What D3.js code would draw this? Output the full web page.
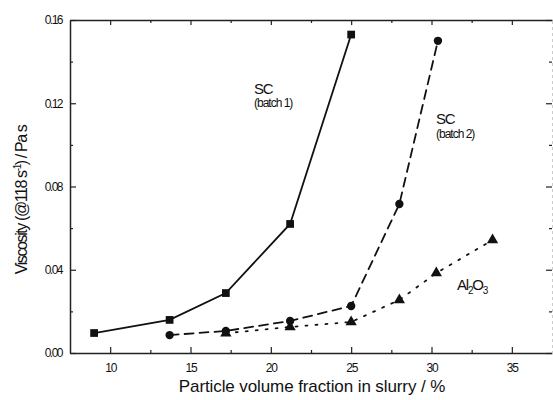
<!DOCTYPE html>
<html>
<head>
<meta charset="utf-8">
<script src="https://cdn.jsdelivr.net/npm/d3@7"></script>
<style>
  body { margin: 0; background: #fff; }
  text { font-family: "Liberation Sans", Arial, sans-serif; fill: #111; }
</style>
</head>
<body>
<div id="chart"></div>
<script>
// Données
const batch1X = [9.0, 13.7, 17.2, 21.2, 25.0];
const batch1Y = [0.0096, 0.0159, 0.0288, 0.062, 0.153];

const batch2X = [13.7, 17.2, 21.2, 25.0, 28.0, 30.4];
const batch2Y = [0.0086, 0.0106, 0.0154, 0.0226, 0.0716, 0.150];

const aluminaX = [17.2, 21.2, 25.0, 28.0, 30.3, 33.8];
const aluminaY = [0.0095, 0.0125, 0.0149, 0.0255, 0.0384, 0.0543];

const xTicks = [10, 15, 20, 25, 30, 35];
const xMinor = [12.5, 17.5, 22.5, 27.5, 32.5];
const yTicks = [0, 0.04, 0.08, 0.12, 0.16];
const yMinor = [0.02, 0.06, 0.10, 0.14];
const yTickLabels = ["0.00", "0.04", "0.08", "0.12", "0.16"];

//---------------------------------------------------------------------------------------

const W = 553, H = 400;
const margin = { left: 70, right: 1, top: 20, bottom: 47 };
const width = W - margin.left - margin.right;
const height = H - margin.top - margin.bottom;

const svg = d3.select("#chart")
  .append("svg")
  .attr("width", W)
  .attr("height", H);

const g = svg.append("g")
  .attr("transform", `translate(${margin.left}, ${margin.top})`);

// échelles
const scaleX = d3.scaleLinear().domain([7.5, 37.5]).range([0, width]);
const scaleY = d3.scaleLinear().domain([0, 0.16]).range([height, 0]);

//---------------------------------------------------------------------------------------

// axes (ticks vers l'intérieur)
const axisStyle = sel => {
  sel.select(".domain").attr("stroke", "#222").attr("stroke-width", 1.5);
  sel.selectAll(".tick line").attr("stroke", "#222").attr("stroke-width", 1.2);
};

// axe du bas
g.append("g")
  .attr("transform", `translate(0, ${height})`)
  .call(d3.axisBottom(scaleX).tickValues(xTicks).tickSizeInner(-6).tickSizeOuter(0).tickPadding(10))
  .call(axisStyle)
  .call(a => a.selectAll("text").attr("font-size", 12).attr("letter-spacing", -1.2).attr("fill", "#111"));

g.append("g")
  .attr("transform", `translate(0, ${height})`)
  .call(d3.axisBottom(scaleX).tickValues(xMinor).tickSize(-3).tickFormat(""))
  .call(a => a.select(".domain").remove())
  .call(axisStyle);

// axe du haut
g.append("g")
  .call(d3.axisTop(scaleX).tickValues(xTicks).tickSizeInner(-5).tickSizeOuter(0).tickFormat(""))
  .call(axisStyle);

g.append("g")
  .call(d3.axisTop(scaleX).tickValues(xMinor).tickSize(-3).tickFormat(""))
  .call(a => a.select(".domain").remove())
  .call(axisStyle);

// axe de gauche
g.append("g")
  .call(d3.axisLeft(scaleY).tickValues(yTicks).tickSizeInner(-6).tickSizeOuter(0).tickPadding(8)
    .tickFormat((d, i) => yTickLabels[i]))
  .call(axisStyle)
  .call(a => a.selectAll("text").attr("font-size", 12).attr("letter-spacing", -1.5).attr("fill", "#111"));

g.append("g")
  .call(d3.axisLeft(scaleY).tickValues(yMinor).tickSize(-3).tickFormat(""))
  .call(a => a.select(".domain").remove())
  .call(axisStyle);

// axe de droite (ticks seulement)
g.append("g")
  .attr("transform", `translate(${width}, 0)`)
  .call(d3.axisRight(scaleY).tickValues(yTicks).tickSize(-6).tickFormat(""))
  .call(a => a.select(".domain").attr("stroke", "#ccc").attr("stroke-width", 1).attr("stroke-dasharray", "3,3"))
  .call(a => a.selectAll(".tick line").attr("stroke", "#222").attr("stroke-width", 1.2));

g.append("g")
  .attr("transform", `translate(${width}, 0)`)
  .call(d3.axisRight(scaleY).tickValues(yMinor).tickSize(-3).tickFormat(""))
  .call(a => a.select(".domain").remove())
  .call(a => a.selectAll(".tick line").attr("stroke", "#222").attr("stroke-width", 1.2));

//---------------------------------------------------------------------------------------

// séries
const series = [
  { xs: batch1X, ys: batch1Y, dash: null, symbol: d3.symbolSquare, size: 60 },
  { xs: batch2X, ys: batch2Y, dash: "9,6", symbol: d3.symbolCircle, size: 55 },
  { xs: aluminaX, ys: aluminaY, dash: "2,8", symbol: d3.symbolTriangle, size: 55 },
];

const line = d3.line()
  .x(d => scaleX(d[0]))
  .y(d => scaleY(d[1]));

series.forEach(s => {
  const pts = s.xs.map((x, i) => [x, s.ys[i]]);
  g.append("path")
    .attr("d", line(pts))
    .attr("fill", "none")
    .attr("stroke", "#111")
    .attr("stroke-width", 1.8)
    .attr("stroke-linecap", "round")
    .attr("stroke-dasharray", s.dash);

  g.selectAll(null)
    .data(pts)
    .join("path")
    .attr("transform", d => `translate(${scaleX(d[0])}, ${scaleY(d[1])})`)
    .attr("d", d3.symbol(s.symbol, s.size))
    .attr("fill", "#111");
});

//---------------------------------------------------------------------------------------

// annotations
const notes = svg.append("g");
notes.append("text").attr("x", 254).attr("y", 94).attr("font-size", 15).attr("letter-spacing", -1.2).text("SC");
notes.append("text").attr("x", 254).attr("y", 107).attr("font-size", 12).attr("letter-spacing", -1).text("(batch 1)");
notes.append("text").attr("x", 436).attr("y", 124).attr("font-size", 15).attr("letter-spacing", -1.2).text("SC");
notes.append("text").attr("x", 436).attr("y", 138).attr("font-size", 12).attr("letter-spacing", -1).text("(batch 2)");

const al = notes.append("text").attr("x", 457).attr("y", 290).attr("font-size", 15).attr("letter-spacing", -1.2);
al.append("tspan").text("Al");
al.append("tspan").attr("font-size", 10).attr("dy", 4).text("2");
al.append("tspan").attr("dy", -4).text("O");
al.append("tspan").attr("font-size", 10).attr("dy", 4).text("3");

// titres des axes
svg.append("text")
  .attr("x", 312)
  .attr("y", 392)
  .attr("text-anchor", "middle")
  .attr("font-size", 17)
  .attr("letter-spacing", -0.1)
  .text("Particle volume fraction in slurry / %");

const yl = svg.append("text")
  .attr("transform", "translate(27, 200) rotate(-90)")
  .attr("text-anchor", "middle")
  .attr("font-size", 16)
  .attr("letter-spacing", -1.4);
yl.append("tspan").text("Viscosity (@118 s");
yl.append("tspan").attr("font-size", 10).attr("dy", -6).text("-1");
yl.append("tspan").attr("dy", 6).text(") / Pa s");
</script>
</body>
</html>
